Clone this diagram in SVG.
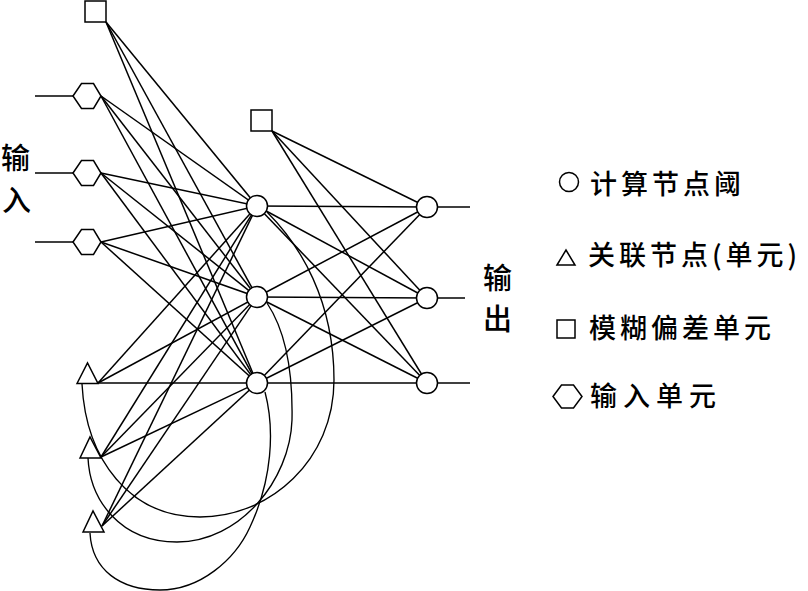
<svg xmlns="http://www.w3.org/2000/svg" width="808" height="591" viewBox="0 0 808 591">
<style>
.c line, .c path { stroke:#000; stroke-width:1.5; fill:none; }
.c path { stroke-width:1.35; }
.n { fill:#fff; stroke:#000; stroke-width:1.5; }
.t { font-family:"Noto Sans CJK SC","Noto Sans",sans-serif; font-weight:500; fill:#000; }
.lg { font-size:27px; letter-spacing:4px; }
.lb { font-size:29px; }
</style>
<rect width="808" height="591" fill="#fff"/>
<g id="connectors" class="c">
  <!-- input lines -->
  <line x1="35" y1="96" x2="73" y2="96"/>
  <line x1="35" y1="173" x2="73" y2="173"/>
  <line x1="35" y1="242" x2="73" y2="242"/>
  <!-- bias 1 -->
  <line x1="106" y1="22" x2="257" y2="206"/>
  <line x1="106" y1="22" x2="257" y2="297"/>
  <line x1="106" y1="22" x2="257" y2="383"/>
  <!-- hex inputs -->
  <line x1="101" y1="96" x2="257" y2="206"/>
  <line x1="101" y1="96" x2="257" y2="297"/>
  <line x1="101" y1="96" x2="257" y2="383"/>
  <line x1="101" y1="173" x2="257" y2="206"/>
  <line x1="101" y1="173" x2="257" y2="297"/>
  <line x1="101" y1="173" x2="257" y2="383"/>
  <line x1="101" y1="242" x2="257" y2="206"/>
  <line x1="101" y1="242" x2="257" y2="297"/>
  <line x1="101" y1="242" x2="257" y2="383"/>
  <!-- triangles -->
  <line x1="98" y1="383" x2="257" y2="206"/>
  <line x1="98" y1="383" x2="257" y2="297"/>
  <line x1="98" y1="383" x2="257" y2="383"/>
  <line x1="101" y1="457" x2="257" y2="206"/>
  <line x1="101" y1="457" x2="257" y2="297"/>
  <line x1="101" y1="457" x2="257" y2="383"/>
  <line x1="102" y1="526" x2="257" y2="206"/>
  <line x1="102" y1="526" x2="257" y2="297"/>
  <line x1="102" y1="526" x2="257" y2="383"/>
  <!-- bias 2 -->
  <line x1="272" y1="131" x2="427" y2="207"/>
  <line x1="272" y1="131" x2="427" y2="298"/>
  <line x1="272" y1="131" x2="427" y2="383"/>
  <!-- hidden to output -->
  <line x1="257" y1="206" x2="427" y2="207"/>
  <line x1="257" y1="206" x2="427" y2="298"/>
  <line x1="257" y1="206" x2="427" y2="383"/>
  <line x1="257" y1="297" x2="427" y2="207"/>
  <line x1="257" y1="297" x2="427" y2="298"/>
  <line x1="257" y1="297" x2="427" y2="383"/>
  <line x1="257" y1="383" x2="427" y2="207"/>
  <line x1="257" y1="383" x2="427" y2="298"/>
  <line x1="257" y1="383" x2="427" y2="383"/>
  <!-- outputs -->
  <line x1="427" y1="207" x2="470" y2="207"/>
  <line x1="427" y1="298" x2="465" y2="298"/>
  <line x1="427" y1="383" x2="470" y2="383"/>
  <!-- recurrent curves -->
  <path d="M267 212 C300 245 334 300 334 380 C334 460 270 517 200 517 C130 517 86 460 82 384"/>
  <path d="M267 303 C285 330 293 370 292 420 C290 480 240 542 177 542 C120 542 90 500 88 458"/>
  <path d="M265 392 C275 430 272 480 250 527 C235 560 200 590 160 590 C120 590 92 570 90 533"/>
</g>
<g id="bias1"><rect class="n" x="85" y="1" width="21" height="21"/></g>
<g id="bias2"><rect class="n" x="251" y="110" width="21" height="21"/></g>
<g id="in1"><polygon class="n" points="73,96 81.5,83.5 93.5,83.5 101,96 93.5,108.5 81.5,108.5"/></g>
<g id="in2"><polygon class="n" points="73,173 81.5,160.5 93.5,160.5 101,173 93.5,185.5 81.5,185.5"/></g>
<g id="in3"><polygon class="n" points="73,242 81.5,229.5 93.5,229.5 101,242 93.5,254.5 81.5,254.5"/></g>
<g id="ctx1"><polygon class="n" points="77,383.5 87.5,363 98,383.5"/></g>
<g id="ctx2"><polygon class="n" points="80,458 90,437 101,458"/></g>
<g id="ctx3"><polygon class="n" points="83,532 93,511 104,532"/></g>
<g id="h1"><circle class="n" cx="257" cy="206" r="10.5"/></g>
<g id="h2"><circle class="n" cx="257" cy="297" r="10.5"/></g>
<g id="h3"><circle class="n" cx="257" cy="383" r="10.5"/></g>
<g id="o1"><circle class="n" cx="427" cy="207" r="10.5"/></g>
<g id="o2"><circle class="n" cx="427" cy="298" r="10.5"/></g>
<g id="o3"><circle class="n" cx="427" cy="383" r="10.5"/></g>
<g id="label-in" class="t lb">
  <text x="1" y="169">输</text>
  <text x="2" y="211">入</text>
</g>
<g id="label-out" class="t lb">
  <text x="483" y="289">输</text>
  <text x="483" y="330">出</text>
</g>
<g id="legend">
  <circle class="n" cx="569" cy="182" r="9.5"/>
  <text class="t lg" x="590" y="194">计算节点阈</text>
  <polygon class="n" points="557,265 566,250 575,265"/>
  <text class="t lg" x="588" y="265">关联节点(单元)</text>
  <rect class="n" x="557" y="320" width="18" height="18"/>
  <text class="t lg" x="589" y="338">模糊偏差单元</text>
  <polygon class="n" points="553,396.5 561.5,385 573.5,385 582,396.5 573.5,408 561.5,408"/>
  <text class="t lg" x="590" y="406" style="letter-spacing:6px">输入单元</text>
</g>
</svg>
